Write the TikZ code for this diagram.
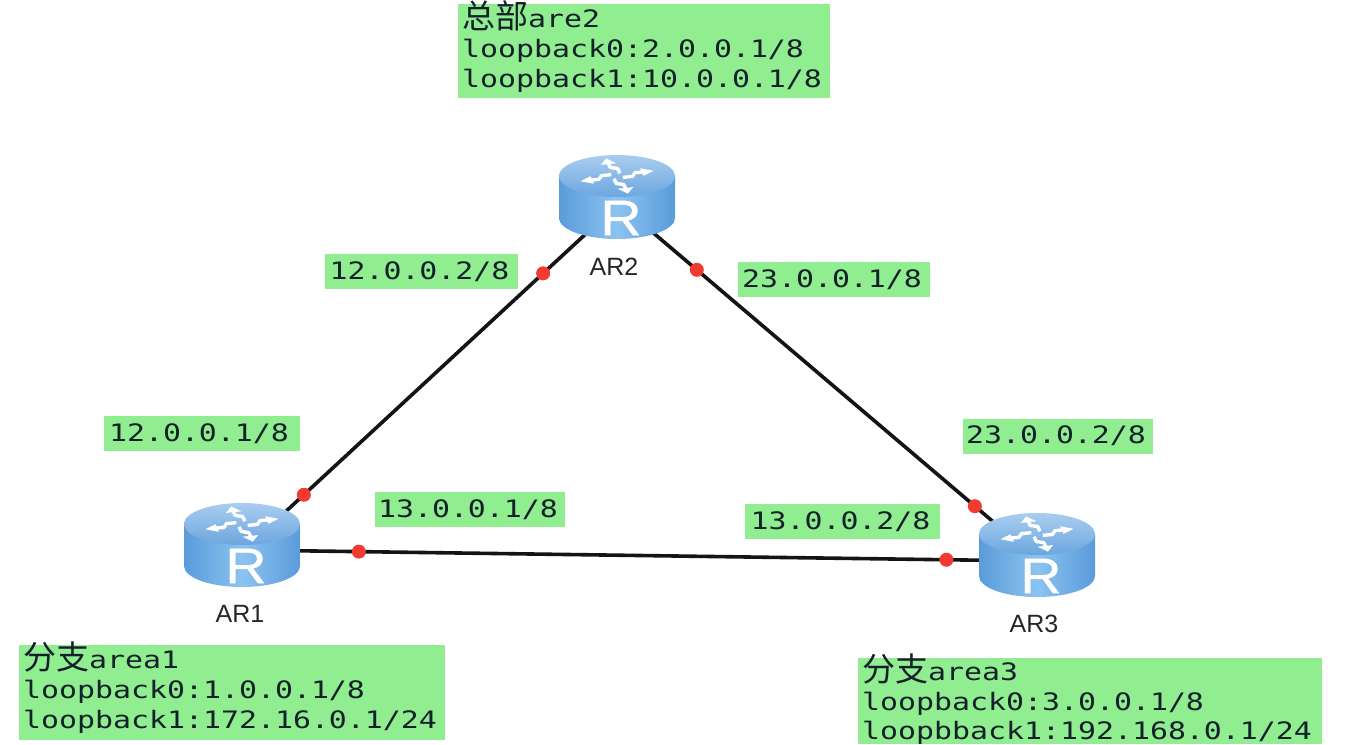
\documentclass[tikz,border=0pt]{standalone}
\usepackage{fontspec}
\usetikzlibrary{calc}
\setmainfont{Liberation Sans}
\newfontfamily\monof[FakeStretch=1.245]{DejaVu Sans Mono}
\newfontfamily\cjkf{Noto Sans CJK SC}
\newfontfamily\rfont[FakeStretch=1.15,FakeBold=0.5]{Liberation Sans}
\definecolor{lbl}{HTML}{90EE90}
\definecolor{inkc}{HTML}{14202A}
\definecolor{dotred}{HTML}{F23B30}
\definecolor{bodyedge}{HTML}{5A9BDA}
\definecolor{bodymid}{HTML}{8CC3F0}
\definecolor{topa}{HTML}{A9CDEF}
\definecolor{topb}{HTML}{6CA6DF}
\newcommand{\cjkhead}[1]{\raisebox{-1.5pt}{\cjkf\fontsize{33}{30}\selectfont #1}}
\tikzset{
  x=1pt,y=-1pt,
  greenbox/.style={fill=lbl,anchor=north west,inner xsep=4pt,inner ysep=0pt,align=left,text=inkc,
    font=\monof\fontsize{24}{30}\selectfont,text height=23pt},
  addr/.style={fill=lbl,inner xsep=0pt,inner ysep=0pt,minimum height=35pt,text=inkc,
    font=\monof\fontsize{24}{30}\selectfont},
  routerbox/.style={minimum width=116pt,minimum height=82pt,inner sep=0pt},
  routername/.style={font=\fontsize{25}{25}\selectfont,text=black!85,inner sep=0pt},
  portdot/.style={circle,fill=dotred,minimum size=14pt,inner sep=0pt},
  linkline/.style={line width=3.6pt,draw=black!92},
  swirl/.style={draw=white,line width=3.4pt,line join=round},
  router/.pic={
    \path[left color=bodyedge,right color=bodyedge,middle color=bodymid]
      (-58,0) -- (-58,42) arc[start angle=180,end angle=360,x radius=58pt,y radius=21pt] -- (58,0) -- cycle;
    \path[top color=topa,bottom color=topb] (0,0) ellipse[x radius=58pt,y radius=21pt];
    \foreach \a in {0,90,180,270}{
      \begin{scope}[yscale=0.48,rotate=\a+12]
        \draw[swirl] (5,4) -- (15,4) -- (19,-3) -- (28,-3);
        \fill[white] (38,-3) -- (26,-11) -- (26,5) -- cycle;
      \end{scope}
    }
    \node[text=white,inner sep=0pt,font=\rfont\fontsize{50}{50}\selectfont] (-rlabel) at (4,42) {R};
  }
}
\begin{document}
\begin{tikzpicture}
\useasboundingbox (0,0) rectangle (1348,744);
\fill[white] (0,0) rectangle (1348,744);

\node[routerbox] (ar1) at (242,545) {};
\node[routerbox] (ar2) at (617,197) {};
\node[routerbox] (ar3) at (1037,555) {};

\draw[linkline] ($(ar1.center)+(0,7)$) -- node[portdot,pos=0.165] (d12a) {} node[portdot,pos=0.803] (d12b) {} ($(ar2.center)+(0,8)$);
\draw[linkline] ($(ar2.center)+(0,5)$) -- node[portdot,pos=0.19] (d23a) {} node[portdot,pos=0.852] (d23b) {} ($(ar3.center)+(0,4)$);
\draw[linkline] ($(ar1.center)+(0,5)$) -- node[portdot,pos=0.147] (d13a) {} node[portdot,pos=0.886] (d13b) {} ($(ar3.center)+(0,6)$);

\pic (r1) at ($(ar1.center)+(0,-21)$) {router};
\pic (r2) at ($(ar2.center)+(0,-21)$) {router};
\pic (r3) at ($(ar3.center)+(0,-21)$) {router};

\node[routername] (n1) at (240,614) {AR1};
\node[routername] (n2) at (614,267) {AR2};
\node[routername] (n3) at (1034,624) {AR3};

\node[greenbox,text width=364pt,text depth=71pt] (bhq) at (458,4)
  {\cjkhead{总部}are2\\loopback0:2.0.0.1/8\\loopback1:10.0.0.1/8};
\node[greenbox,text width=418pt,text depth=72pt] (ba1) at (19,645)
  {\cjkhead{分支}area1\\loopback0:1.0.0.1/8\\loopback1:172.16.0.1/24};
\node[greenbox,text width=456pt,text depth=64pt,text height=22pt] (ba3) at (858,658)
  {\cjkhead{分支}area3\\loopback0:3.0.0.1/8\\[-1pt]loopbback1:192.168.0.1/24};

\node[addr,minimum width=193pt] (l1) at (421.5,271.5) {\hspace{-4pt}12.0.0.2/8};
\node[addr,minimum width=192pt] (l2) at (834,279.5) {\hspace{-4pt}23.0.0.1/8};
\node[addr,minimum width=196pt] (l3) at (202,433.5) {\hspace{-6pt}12.0.0.1/8};
\node[addr,minimum width=190pt] (l4) at (1058,436) {\hspace{-4pt}23.0.0.2/8};
\node[addr,minimum width=190pt] (l5) at (470,509.5) {\hspace{-4pt}13.0.0.1/8};
\node[addr,minimum width=195pt] (l6) at (842.5,521.5) {\hspace{-4pt}13.0.0.2/8};
\end{tikzpicture}
\end{document}
